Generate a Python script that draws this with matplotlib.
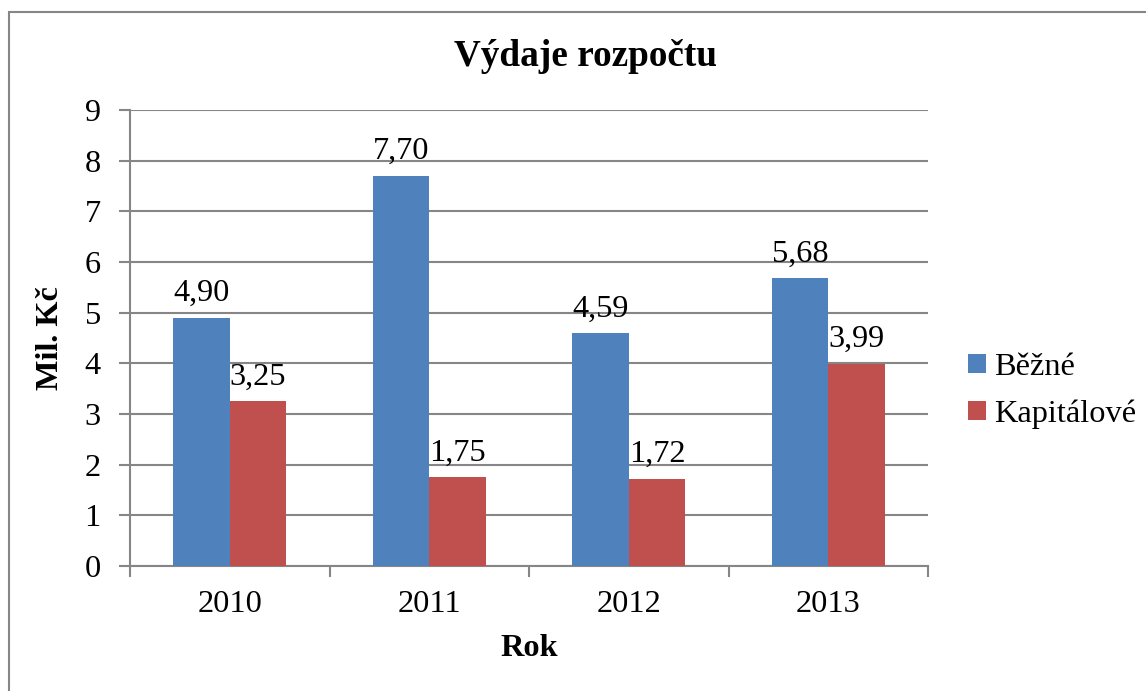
import matplotlib
matplotlib.use("Agg")
import matplotlib.pyplot as plt
from matplotlib.patches import Rectangle
import numpy as np

years = ["2010", "2011", "2012", "2013"]
bezne = [4.90, 7.70, 4.59, 5.68]
kapitalove = [3.25, 1.75, 1.72, 3.99]
series_names = ["Běžné", "Kapitálové"]
title = "Výdaje rozpočtu"
ylabel = "Mil. Kč"
xlabel = "Rok"

plt.rcParams['font.family'] = ['Liberation Serif', 'DejaVu Serif']
W, H = 1146, 691
fig = plt.figure(figsize=(W / 100, H / 100), dpi=100)
ax = fig.add_axes([130 / W, 1 - 566 / H, (928 - 130) / W, (566 - 110) / H])

gray = '#868686'
blue = '#4F81BD'
red = '#C0504D'
fs = 23.3

x = np.arange(len(years))
bw = 0.283
b1 = ax.bar(x - bw / 2, bezne, bw, color=blue, label=series_names[0], zorder=3)
b2 = ax.bar(x + bw / 2, kapitalove, bw, color=red, label=series_names[1], zorder=3)

for bars, vals in ((b1, bezne), (b2, kapitalove)):
    for rect, v in zip(bars, vals):
        ax.annotate(f"{v:.2f}".replace(".", ","),
                    (rect.get_x() + rect.get_width() / 2, v),
                    xytext=(0, 7), textcoords='offset points',
                    ha='center', va='bottom', fontsize=fs)

ax.set_xlim(-0.5, len(years) - 0.5)
ax.set_ylim(0, 9)
ax.set_yticks(range(0, 10))
ax.set_xticks(x)
ax.set_xticklabels(years)
ax.set_xticks(np.arange(-0.5, len(years)), minor=True)
ax.tick_params(axis='x', which='major', length=0, labelsize=fs, pad=17)
ax.tick_params(axis='x', which='minor', length=8, width=1.5, color=gray, direction='out')
ax.tick_params(axis='y', length=8, width=1.5, color=gray, labelsize=fs, pad=13)
ax.yaxis.grid(True, color=gray, linewidth=1.5, zorder=0)
ax.set_axisbelow(True)
for s in ('top', 'right'):
    ax.spines[s].set_visible(False)
for s in ('left', 'bottom'):
    ax.spines[s].set_color(gray)
    ax.spines[s].set_linewidth(1.5)

fig.text(586 / W, 1 - 57 / H, title, ha='center', va='center', fontsize=26.8, fontweight='bold')
fig.text(51 / W, 1 - 338 / H, ylabel, ha='center', va='center', rotation=90, fontsize=fs, fontweight='bold')
fig.text(529 / W, 1 - 648 / H, xlabel, ha='center', va='center', fontsize=fs, fontweight='bold')

leg = fig.legend(handles=[b1, b2], labels=series_names, loc='center left',
                 bbox_to_anchor=(968 / W, 1 - 391 / H), frameon=False, fontsize=fs,
                 handlelength=0.55, handleheight=0.55, handletextpad=0.25, labelspacing=0.55,
                 borderpad=0, borderaxespad=0)

fig.patches.append(Rectangle((9 / W, -0.05), (W - 9) / W + 0.05, 1 - 12 / H + 0.05,
                             transform=fig.transFigure, fill=False,
                             edgecolor=gray, linewidth=1.5))

fig.savefig("out.png", dpi=100)
